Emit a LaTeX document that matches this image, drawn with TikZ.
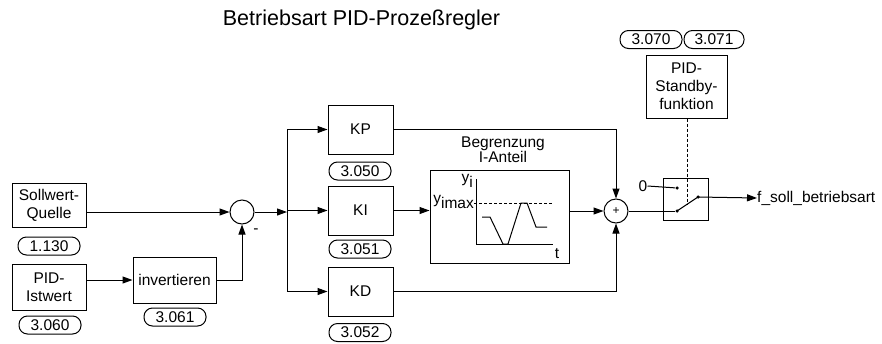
\documentclass[tikz,border=0pt]{standalone}
\usepackage{fontspec}
\setmainfont{Liberation Sans}
\usetikzlibrary{arrows.meta}
\newcommand{\lowsub}[1]{\raisebox{-4.5pt}{#1}}
\begin{document}
\begin{tikzpicture}[x=1pt,y=-1pt,
  every node/.style={font=\fontsize{15.5}{18}\selectfont, inner sep=0pt},
  blk/.style={draw, line width=1pt, align=center},
  pill/.style={draw, line width=1pt, rounded corners=8.5pt, minimum width=62pt, minimum height=18pt},
  sumc/.style={draw, circle, line width=1pt, minimum size=24pt},
  ln/.style={line width=1pt},
  arr/.style={line width=1pt, -{Triangle[length=10pt,width=7pt]}},
  dot/.style={circle, fill, inner sep=0pt, minimum size=3.5pt}
]
\useasboundingbox (0,0) rectangle (882,343);

\node[font=\fontsize{21.5}{24}\selectfont] (title) at (361.5,20) {Betriebsart PID-Prozeßregler};

% left side
\node[blk, minimum width=74pt, minimum height=44pt] (sollw) at (49,205) {Sollwert-\\Quelle};
\node[pill] (p1130) at (49,246) {1.130};
\node[blk, minimum width=74pt, minimum height=46pt] (istw) at (49,287) {PID-\\Istwert};
\node[pill] (p3060) at (50,325) {3.060};
\node[blk, minimum width=83pt, minimum height=46pt] (inv) at (174.5,280) {invertieren};
\node[pill] (p3061) at (175,317) {3.061};
\node[sumc] (sum) at (242,212) {};
\node (minus) at (256,231) {-};

% gains
\node[blk, minimum width=65pt, minimum height=49pt] (kp) at (360.5,129.5) {KP};
\node[pill] (p3050) at (360,171) {3.050};
\node[blk, minimum width=65pt, minimum height=49pt] (ki) at (360.5,210.5) {KI};
\node[pill] (p3051) at (360,249) {3.051};
\node[blk, minimum width=65pt, minimum height=49pt] (kd) at (360.5,291.5) {KD};
\node[pill] (p3052) at (360,332.5) {3.052};

\coordinate (br) at (287,212);
\coordinate (brtop) at (287,129.5);
\coordinate (brbot) at (287,291.5);

% limiter
\node[blk, minimum width=139pt, minimum height=93pt] (begr) at (499.5,216.5) {};
\node (begr1) at (503,144) {Begrenzung};
\node (begr2) at (503,157) {I-Anteil};
\draw[ln] (476,179) -- (476,244) -- (553,244);
\draw[line width=0.7pt, dashed, dash pattern=on 3pt off 2pt] (474,203) -- (553,203);
\draw[ln] (482,217) -- (490,217) -- (503,244) -- (508,244) -- (521,203) -- (527,203) -- (536,227) -- (547,227);
\node[anchor=east] (yi) at (473,181) {y\lowsub{i}};
\node[anchor=east] (yimax) at (474,202) {y\lowsub{imax}};
\node (tlab) at (557,254) {t};

% sum and switch
\node[sumc, font=\fontsize{12}{14}\selectfont] (plus) at (616,211) {+};
\node[blk, minimum width=45pt, minimum height=42pt] (sw) at (685.5,199) {};
\node (zero) at (643,186) {0};
\node[dot] (d0) at (677,188) {};
\node[dot] (d1) at (677,211) {};
\node[dot] (dout) at (698,197) {};
\node[anchor=west] (out) at (757,198) {f\_soll\_betriebsart};
\coordinate (lever) at (687,204.3);

\node[blk, minimum width=81pt, minimum height=63pt] (stby) at (686.5,86.5) {PID-\\Standby-\\funktion};
\node[pill] (p3070) at (651,39.5) {3.070};
\node[pill, minimum width=60pt] (p3071) at (714,39.5) {3.071};

% connectors
\draw[arr] (sollw.east |- sum.west) -- (sum.west);
\draw[arr] (istw.east |- inv.west) -- (inv.west);
\draw[arr] (inv.east) -| (sum.south);
\draw[arr] (sum.east) -- (br);
\draw[ln] (brtop) -- (brbot);
\draw[arr] (brtop) -- (kp.west);
\draw[arr] (br |- ki.west) -- (ki.west);
\draw[arr] (brbot) -- (kd.west);
\draw[arr] (ki.east) -- (begr.west |- ki.east);
\draw[arr] (begr.east |- plus.west) -- (plus.west);
\draw[arr] (kp.east) -| (plus.north);
\draw[arr] (kd.east) -| (plus.south);
\draw[ln] (plus.east) -- (d1);
\draw[ln] (zero.east) -- (d0);
\draw[ln] (d1.center) -- (dout.center);
\draw[arr] (dout.center) -- (out.west);
\draw[line width=0.7pt, dashed, dash pattern=on 3pt off 2pt] (stby.south -| lever) -- (lever);
\end{tikzpicture}
\end{document}
